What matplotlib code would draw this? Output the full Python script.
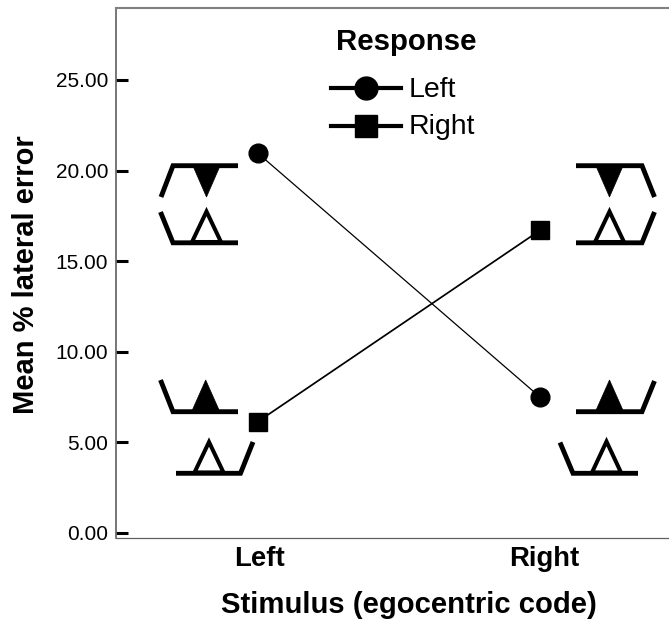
import matplotlib
matplotlib.use("Agg")
import matplotlib.pyplot as plt
from matplotlib.transforms import Affine2D, ScaledTranslation
from matplotlib.patches import Polygon
from matplotlib.lines import Line2D

W, H = 669, 621
stimulus = ["Left", "Right"]
left_response = [20.95, 7.5]
right_response = [6.15, 16.7]
yticks = [0, 5, 10, 15, 20, 25]
ytick_labels = ["0.00", "5.00", "10.00", "15.00", "20.00", "25.00"]

plt.rcParams["font.family"] = ["Liberation Sans", "DejaVu Sans"]
fig = plt.figure(figsize=(W / 100, H / 100), dpi=100)
ax = fig.add_axes([116 / W, 1 - 537.5 / H, (W - 116) / W, (537.5 - 8) / H])
ax.set_xlim(-142 / 282, 411 / 282)
ax.set_ylim(-0.25, 28.97)
xs = [0, 1]
ax.plot(xs, left_response, color="k", lw=0.9, marker="o", ms=13.5, mec="k", mfc="k", zorder=3)
ax.plot(xs, right_response, color="k", lw=1.25, marker="s", ms=12.5, mec="k", mfc="k", zorder=3)

ax.spines["right"].set_visible(False)
ax.spines["top"].set_color("#808080")
ax.spines["top"].set_linewidth(1.5)
ax.spines["left"].set_color("#606060")
ax.spines["left"].set_linewidth(1.2)
ax.spines["bottom"].set_color("#606060")
ax.spines["bottom"].set_linewidth(0.9)

ax.set_yticks(yticks, ytick_labels, fontsize=15)
ax.tick_params(axis="y", direction="in", length=8.5, width=2.2, color="k", pad=5.5)
ax.set_xticks(xs, stimulus, fontsize=19.8, fontweight="bold")
ax.tick_params(axis="x", length=0, pad=6)
offsets = [1.5, 4]
for lab, dx in zip(ax.get_xticklabels(), offsets):
    lab.set_transform(lab.get_transform() + ScaledTranslation(dx / 100, 0, fig.dpi_scale_trans))
fig.text(26 / W, 1 - 274.5 / H, "Mean % lateral error", fontsize=21, fontweight="bold",
         rotation=90, ha="center", va="center")
fig.text(408.5 / W, 1 - 613 / H, "Stimulus (egocentric code)", fontsize=21.1, fontweight="bold",
         ha="center", va="baseline")

px = Affine2D().scale(1 / W, -1 / H).translate(0, 1) + fig.transFigure


def glyph(apex_x, apex_y, base_y, half, filled, lw=2.9):
    p = Polygon([(apex_x - half, base_y), (apex_x, apex_y), (apex_x + half, base_y)], closed=True,
                fc="k" if filled else "none", ec="k", lw=lw if not filled else 0.5,
                transform=px, joinstyle="miter", clip_on=False)
    fig.add_artist(p)


def bracket(points, lw=3.5):
    fig.add_artist(Line2D([q[0] for q in points], [q[1] for q in points], color="k", lw=lw,
                          transform=px, solid_joinstyle="miter", solid_capstyle="butt"))


# top-left pair
bracket([(161, 197), (173, 165.7), (238, 165.7)])
glyph(206.5, 197, 166, 13.5, True)
bracket([(160.5, 212), (173, 242.8), (238, 242.8)])
glyph(206.5, 211.5, 242, 14.5, False)
# top-right pair
bracket([(576, 165.7), (642, 165.7), (654.5, 197)])
glyph(609.5, 197, 166, 13.5, True)
bracket([(576, 242.8), (642, 242.8), (654.5, 212)])
glyph(609.5, 211.5, 242, 14.5, False)
# lower-left pair
bracket([(160.5, 380), (173, 411.7), (238, 411.7)])
glyph(205.7, 380, 411.5, 14, True)
bracket([(176, 473.3), (240.5, 473.3), (253, 442)])
glyph(209, 442, 472.5, 14.5, False)
# lower-right pair
bracket([(576, 411.7), (642, 411.7), (654.5, 381)])
glyph(609.5, 380, 411.5, 14, True)
bracket([(560, 442.5), (573, 473.3), (638, 473.3)])
glyph(606.5, 441.5, 472.5, 14.5, False)

# legend
fig.text(406.5 / W, 1 - 50 / H, "Response", fontsize=21.2, fontweight="bold", ha="center", va="baseline")
for y, m, ms, base, name in [(87.5, "o", 16.5, 96.7, "Left"), (125.5, "s", 15.5, 134, "Right")]:
    fig.add_artist(Line2D([331, 401], [y, y], color="k", lw=3, marker=None, transform=px))
    fig.add_artist(Line2D([366], [y], color="k", marker=m, ms=ms, mec="k", mfc="k", ls="none", transform=px))
    fig.text(409 / W, 1 - base / H, name, fontsize=20.5, ha="left", va="baseline")

fig.savefig("out.png", dpi=100)
